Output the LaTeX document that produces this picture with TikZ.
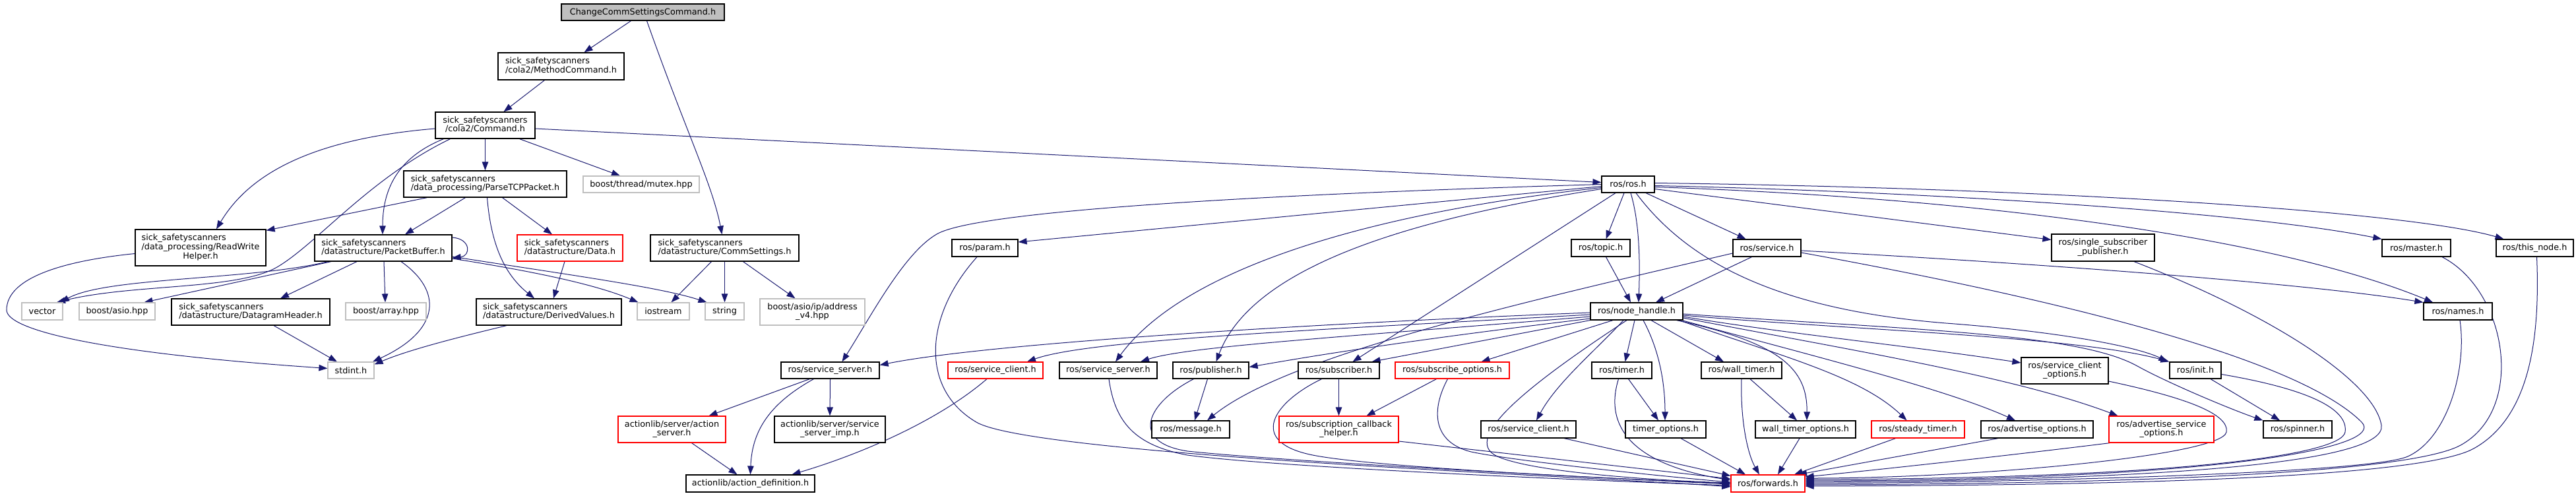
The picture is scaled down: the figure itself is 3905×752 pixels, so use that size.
\documentclass[tikz,border=0pt]{standalone}
\usepackage{fontspec}
\setmainfont{DejaVu Sans}
\usetikzlibrary{arrows.meta,calc}
\pgfdeclarelayer{edgelayer}
\pgfsetlayers{edgelayer,main}
\definecolor{edgeblue}{HTML}{191970}
\definecolor{nodegray}{HTML}{BFBFBF}
\newcommand{\twoline}[2]{\begin{tabular}{@{}l@{}}#1\\\multicolumn{1}{@{}c@{}}{#2}\end{tabular}}
\newcommand{\threeline}[3]{\begin{tabular}{@{}l@{}}#1\\#2\\\multicolumn{1}{@{}c@{}}{#3}\end{tabular}}
\begin{document}
\begin{tikzpicture}[x=1pt,y=-1pt,
  box/.style={draw=black, line width=1.2pt, fill=white, inner sep=0pt, font=\fontsize{12.8}{13.3}\selectfont, text=black},
  redbox/.style={box, draw=red},
  graybox/.style={box, draw=nodegray},
  edge/.style={draw=edgeblue, line width=1pt, -{Triangle[length=13pt,width=9.5pt]}}]
\useasboundingbox (0,0) rectangle (3905,752);
% ---------- nodes ----------
\node[box, fill=nodegray, minimum width=247pt, minimum height=25pt] (cc) at (974.5,18.5) {ChangeCommSettingsCommand.h};
\node[box, minimum width=191pt, minimum height=41pt] (mc) at (850.5,100.5) {\twoline{sick\_safetyscanners}{/cola2/MethodCommand.h}};
\node[box, minimum width=151pt, minimum height=40pt] (cmd) at (735.5,190) {\twoline{sick\_safetyscanners}{/cola2/Command.h}};
\node[box, minimum width=247pt, minimum height=40pt] (ptcp) at (735.5,279) {\twoline{sick\_safetyscanners}{/data\_processing/ParseTCPPacket.h}};
\node[graybox, minimum width=176pt, minimum height=25pt] (mutex) at (972,279.5) {boost/thread/mutex.hpp};
\node[box, minimum width=198pt, minimum height=55pt] (rw) at (304,375.5) {\threeline{sick\_safetyscanners}{/data\_processing/ReadWrite}{Helper.h}};
\node[box, minimum width=208pt, minimum height=40pt] (pb) at (581,376) {\twoline{sick\_safetyscanners}{/datastructure/PacketBuffer.h}};
\node[redbox, minimum width=160pt, minimum height=40pt] (data) at (864,376) {\twoline{sick\_safetyscanners}{/datastructure/Data.h}};
\node[box, minimum width=225pt, minimum height=40pt] (cs) at (1098.5,376) {\twoline{sick\_safetyscanners}{/datastructure/CommSettings.h}};
\node[graybox, minimum width=62pt, minimum height=26pt] (vec) at (64,472) {vector};
\node[graybox, minimum width=115pt, minimum height=26pt] (asio) at (177.5,472) {boost/asio.hpp};
\node[box, minimum width=240pt, minimum height=40pt] (dgh) at (380,473) {\twoline{sick\_safetyscanners}{/datastructure/DatagramHeader.h}};
\node[graybox, minimum width=122pt, minimum height=26pt] (arr) at (585,472) {boost/array.hpp};
\node[box, minimum width=220pt, minimum height=40pt] (dv) at (832,473) {\twoline{sick\_safetyscanners}{/datastructure/DerivedValues.h}};
\node[graybox, minimum width=79pt, minimum height=26pt] (ios) at (1005.5,472) {iostream};
\node[graybox, minimum width=59pt, minimum height=26pt] (str) at (1098.5,472) {string};
\node[graybox, minimum width=159pt, minimum height=40pt] (addr) at (1231.5,473) {\twoline{boost/asio/ip/address}{\_v4.hpp}};
\node[graybox, minimum width=70pt, minimum height=25pt] (std) at (532,561.5) {stdint.h};
\node[box, minimum width=80pt, minimum height=25pt] (rosh) at (2468,279.5) {ros/ros.h};
\node[box, minimum width=100pt, minimum height=26pt] (param) at (1493,376) {ros/param.h};
\node[box, minimum width=89pt, minimum height=26pt] (topic) at (2426.5,376) {ros/topic.h};
\node[box, minimum width=103pt, minimum height=26pt] (service) at (2678.5,376) {ros/service.h};
\node[box, minimum width=156pt, minimum height=41pt] (ssp) at (3188,375.5) {\twoline{ros/single\_subscriber}{\_publisher.h}};
\node[box, minimum width=104pt, minimum height=26pt] (master) at (3663,376) {ros/master.h};
\node[box, minimum width=117pt, minimum height=26pt] (thisnode) at (3842.5,376) {ros/this\_node.h};
\node[box, minimum width=140pt, minimum height=26pt] (nh) at (2481,472) {ros/node\_handle.h};
\node[box, minimum width=104pt, minimum height=26pt] (names) at (3726,472) {ros/names.h};
\node[box, minimum width=149pt, minimum height=25pt] (ssrv1) at (1258.5,561.5) {ros/service\_server.h};
\node[redbox, minimum width=144pt, minimum height=25pt] (sclient1) at (1509,561.5) {ros/service\_client.h};
\node[box, minimum width=148pt, minimum height=25pt] (ssrv2) at (1680,561.5) {ros/service\_server.h};
\node[box, minimum width=115pt, minimum height=25pt] (pub) at (1835.5,561.5) {ros/publisher.h};
\node[box, minimum width=123pt, minimum height=25pt] (sub) at (2029.5,561.5) {ros/subscriber.h};
\node[redbox, minimum width=173pt, minimum height=25pt] (subopt) at (2201.5,561.5) {ros/subscribe\_options.h};
\node[box, minimum width=91pt, minimum height=25pt] (timer) at (2458.5,561.5) {ros/timer.h};
\node[box, minimum width=122pt, minimum height=25pt] (wtimer) at (2640,561.5) {ros/wall\_timer.h};
\node[box, minimum width=132pt, minimum height=40pt] (sco) at (3130,562) {\twoline{ros/service\_client}{\_options.h}};
\node[box, minimum width=78pt, minimum height=25pt] (init) at (3328,561.5) {ros/init.h};
\node[redbox, minimum width=163pt, minimum height=40pt] (aserver) at (1018.5,651) {\twoline{actionlib/server/action}{\_server.h}};
\node[box, minimum width=168pt, minimum height=40pt] (ssimp) at (1258,651) {\twoline{actionlib/server/service}{\_server\_imp.h}};
\node[box, minimum width=118pt, minimum height=26pt] (msg) at (1805,651) {ros/message.h};
\node[redbox, minimum width=181pt, minimum height=40pt] (sch) at (2029.5,651) {\twoline{ros/subscription\_callback}{\_helper.h}};
\node[box, minimum width=144pt, minimum height=26pt] (sclient2) at (2317,651) {ros/service\_client.h};
\node[box, minimum width=122pt, minimum height=26pt] (topt) at (2525,651) {timer\_options.h};
\node[box, minimum width=152pt, minimum height=26pt] (wtopt) at (2737,651) {wall\_timer\_options.h};
\node[redbox, minimum width=141pt, minimum height=26pt] (stimer) at (2907.5,651) {ros/steady\_timer.h};
\node[box, minimum width=170pt, minimum height=26pt] (advopt) at (3088,651) {ros/advertise\_options.h};
\node[redbox, minimum width=159pt, minimum height=40pt] (asopt) at (3276.5,651) {\twoline{ros/advertise\_service}{\_options.h}};
\node[box, minimum width=104pt, minimum height=26pt] (spinner) at (3483,651) {ros/spinner.h};
\node[redbox, minimum width=112pt, minimum height=26pt] (fwd) at (2680,733) {ros/forwards.h};
\node[box, minimum width=195pt, minimum height=26pt] (adef) at (1137.5,733) {actionlib/action\_definition.h};
% ---------- edges ----------
\begin{pgfonlayer}{edgelayer}
\fill[white] (0,0) rectangle (3905,752);
% sick_safetyscanners part
\draw[edge] ($(cc.south)+(-18,0)$) -- ($(mc.north)+(35,0)$);
\draw[edge] ($(cc.south)+(6,0)$) .. controls (1040,200) and (1080,280) .. ($(cs.north)+(-4,0)$);
\draw[edge] ($(mc.south)+(-25,0)$) -- ($(cmd.north)+(28,0)$);
\draw[edge] (cmd.south) -- (ptcp.north);
\draw[edge] ($(cmd.south)+(52,0)$) -- ($(mutex.north)+(-32,0)$);
\draw[edge] ($(cmd.east)+(0,5)$) -- ($(rosh.west)+(0,-3)$);
\draw[edge] ($(cmd.west)+(0,5)$) .. controls (480,210) and (380,260) .. ($(rw.north)+(24,0)$);
\draw[edge] ($(cmd.south)+(-63,0)$) .. controls (600,240) and (580,290) .. ($(pb.north)+(-1,0)$);
\draw[edge] ($(cmd.south)+(-53,0)$) .. controls (560,270) and (480,370) .. (420,405) .. controls (360,440) and (200,430) .. ($(vec.north)+(22,0)$);
\draw[edge] ($(ptcp.south)+(-88,0)$) -- ($(rw.north east)+(0,2)$);
\draw[edge] ($(ptcp.south)+(-30,0)$) -- ($(pb.north)+(33,0)$);
\draw[edge] ($(ptcp.south)+(26,0)$) -- ($(data.north)+(-27,0)$);
\draw[edge] ($(ptcp.south)+(3,0)$) .. controls (745,380) and (770,420) .. ($(dv.north)+(-22,0)$);
\draw[edge] ($(pb.east)+(0,-16)$) .. controls (714,362) and (714,388) .. ($(pb.east)+(0,15)$);
\draw[edge] ($(pb.south)+(-84,0)$) .. controls (380,425) and (160,420) .. ($(vec.north)+(28,0)$);
\draw[edge] ($(pb.south)+(-79,0)$) -- ($(asio.north)+(41,0)$);
\draw[edge] ($(pb.south)+(-40,0)$) -- ($(dgh.north)+(45,0)$);
\draw[edge] ($(pb.south)+(1,0)$) -- ($(arr.north)+(-1,0)$);
\draw[edge] ($(pb.south)+(27,0)$) .. controls (670,440) and (670,500) .. ($(std.north)+(33,0)$);
\draw[edge] ($(pb.east)+(0,16)$) .. controls (800,410) and (900,430) .. ($(ios.north)+(-38,0)$);
\draw[edge] ($(pb.east)+(0,13)$) .. controls (850,415) and (1000,435) .. ($(str.north)+(-27,0)$);
\draw[edge] ($(data.south)+(-8,0)$) -- ($(dv.north)+(7,0)$);
\draw[edge] ($(cs.south)+(-20,0)$) -- ($(ios.north)+(12,0)$);
\draw[edge] (cs.south) -- (str.north);
\draw[edge] ($(cs.south)+(28,0)$) -- ($(addr.north)+(-26,0)$);
\draw[edge] ($(dv.south)+(-64,0)$) .. controls (700,510) and (620,530) .. ($(std.east)+(0,-9)$);
\draw[edge] ($(dgh.south)+(35,0)$) -- ($(std.north)+(-21,0)$);
\draw[edge] ($(rw.west)+(0,9)$) .. controls (100,395) and (10,420) .. (10,470) .. controls (10,500) and (150,535) .. ($(std.west)+(0,-3)$);
% actionlib part
\draw[edge] ($(ssrv1.south)+(-31,0)$) -- ($(aserver.north)+(56,0)$);
\draw[edge] (ssrv1.south) -- (ssimp.north);
\draw[edge] ($(ssrv1.south)+(-25,0)$) .. controls (1170,610) and (1140,650) .. (adef.north);
\draw[edge] ($(aserver.south)+(30,0)$) -- ($(adef.north)+(-20,0)$);
\draw[edge] ($(sclient1.south)+(-13,0)$) .. controls (1420,640) and (1300,690) .. ($(adef.north)+(63,0)$);
% ros/ros.h
\draw[edge] (rosh.west) .. controls (1900,295) and (1480,320) .. (1420,355) .. controls (1370,384) and (1320,480) .. ($(ssrv1.north)+(18,0)$);
\draw[edge] ($(rosh.west)+(0,3)$) -- ($(param.east)+(0,-9)$);
\draw[edge] ($(rosh.west)+(0,5)$) .. controls (2100,320) and (1800,400) .. ($(ssrv2.north)+(11,0)$);
\draw[edge] ($(rosh.west)+(0,7)$) .. controls (2150,330) and (1900,400) .. ($(pub.north)+(8,0)$);
\draw[edge] ($(rosh.south)+(-19,0)$) -- ($(sub.north)+(21,0)$);
\draw[edge] ($(rosh.south)+(-6,0)$) -- ($(topic.north)+(8,0)$);
\draw[edge] ($(rosh.south)+(4,0)$) .. controls (2486,340) and (2486,400) .. ($(nh.north)+(3,0)$);
\draw[edge] ($(rosh.south)+(27,0)$) -- ($(service.north)+(-32,0)$);
\draw[edge] ($(rosh.south)+(12,0)$) .. controls (2560,400) and (2700,470) .. (2950,490) .. controls (3150,505) and (3250,530) .. ($(init.north west)+(-3,0)$);
\draw[edge] ($(rosh.east)+(0,7)$) -- ($(ssp.west)+(0,-12)$);
\draw[edge] ($(rosh.east)+(0,2)$) .. controls (2900,290) and (3400,320) .. (master.north west);
\draw[edge] ($(rosh.east)+(0,-2)$) .. controls (3100,285) and (3650,320) .. ($(thisnode.north)+(-47,0)$);
\draw[edge] ($(rosh.east)+(0,4)$) .. controls (3000,300) and (3450,360) .. ($(names.north)+(-38,0)$);
% ros/service.h
\draw[edge] ($(service.east)+(0,4)$) .. controls (3100,400) and (3500,430) .. (names.north west);
\draw[edge] ($(service.west)+(0,8)$) .. controls (2300,460) and (1950,540) .. ($(msg.north)+(25,0)$);
\draw[edge] ($(service.south)+(-23,0)$) -- ($(nh.north)+(29,0)$);
\draw[edge] ($(service.east)+(0,7)$) .. controls (3100,450) and (3480,540) .. (3580,640) .. controls (3620,680) and (3350,728) .. ($(fwd.east)+(0,-4)$);
% long loops to ros/forwards.h
\draw[edge] ($(ssp.south)+(47,0)$) .. controls (3450,480) and (3600,580) .. (3610,645) .. controls (3618,700) and (3300,728) .. ($(fwd.east)+(0,-2)$);
\draw[edge] ($(init.east)+(0,6)$) .. controls (3500,590) and (3560,620) .. (3555,655) .. controls (3550,690) and (3300,725) .. ($(fwd.east)+(0,-6)$);
\draw[edge] ($(init.south)+(23,0)$) -- ($(spinner.north)+(-27,0)$);
\draw[edge] ($(sco.east)+(0,16)$) .. controls (3300,600) and (3380,625) .. (3375,655) .. controls (3370,690) and (3000,725) .. ($(fwd.east)+(0,-8)$);
\draw[edge] ($(names.south)+(3,0)$) .. controls (3740,560) and (3710,665) .. (3650,692) .. controls (3590,719) and (3000,732) .. (fwd.east);
\draw[edge] ($(master.south)+(39,0)$) .. controls (3800,440) and (3830,620) .. (3730,675) .. controls (3640,724) and (3100,734) .. ($(fwd.east)+(0,2)$);
\draw[edge] ($(thisnode.south)+(3,0)$) .. controls (3850,500) and (3840,630) .. (3750,680) .. controls (3660,730) and (3100,736) .. ($(fwd.east)+(0,4)$);
\draw[edge] ($(asopt.south west)+(2,0)$) .. controls (3050,690) and (2850,712) .. ($(fwd.east)+(0,-10)$);
\draw[edge] ($(advopt.south)+(-59,0)$) -- ($(fwd.north)+(46,0)$);
\draw[edge] ($(stimer.south)+(-34,0)$) -- ($(fwd.north)+(40,0)$);
\draw[edge] ($(wtopt.south)+(-9,0)$) -- ($(fwd.north)+(15,0)$);
\draw[edge] (wtimer.south) .. controls (2638,640) and (2650,690) .. ($(fwd.north)+(-13,0)$);
\draw[edge] ($(wtimer.south)+(13,0)$) -- ($(wtopt.north)+(-13,0)$);
\draw[edge] ($(timer.south)+(10,0)$) -- ($(topt.north)+(-11,0)$);
\draw[edge] ($(timer.south)+(-5,0)$) .. controls (2430,650) and (2480,705) .. ($(fwd.west)+(0,-5)$);
\draw[edge] ($(topt.south)+(23,0)$) -- ($(fwd.north)+(-34,0)$);
\draw[edge] ($(sclient2.south)+(54,0)$) -- ($(fwd.north west)+(0,2)$);
\draw[edge] ($(subopt.south)+(-7,0)$) .. controls (2170,620) and (2170,670) .. (2230,685) .. controls (2300,700) and (2550,725) .. ($(fwd.west)+(0,-2)$);
\draw[edge] ($(subopt.south)+(-24,0)$) -- ($(sch.north)+(42,0)$);
\draw[edge] (sub.south) -- (sch.north);
\draw[edge] ($(sub.south)+(-26,0)$) .. controls (1930,610) and (1890,670) .. (1990,690) .. controls (2090,710) and (2500,728) .. (fwd.west);
\draw[edge] ($(sch.east)+(0,18)$) -- ($(fwd.west)+(0,-7)$);
\draw[edge] ($(pub.south)+(-5,0)$) -- ($(msg.north)+(6,0)$);
\draw[edge] ($(pub.south)+(-26,0)$) .. controls (1740,610) and (1710,670) .. (1800,684) .. controls (1950,700) and (2450,726) .. ($(fwd.west)+(0,1)$);
\draw[edge] ($(ssrv2.south)+(1,0)$) .. controls (1690,640) and (1720,675) .. (1800,690) .. controls (1950,710) and (2450,730) .. ($(fwd.west)+(0,3)$);
\draw[edge] ($(param.south)+(-12,0)$) .. controls (1400,480) and (1395,590) .. (1480,640) .. controls (1565,690) and (2400,722) .. ($(fwd.west)+(0,5)$);
\draw[edge] ($(topic.south)+(8,0)$) -- ($(nh.north)+(-9,0)$);
% ros/node_handle.h
\draw[edge] ($(nh.west)+(0,2)$) .. controls (2000,490) and (1500,520) .. ($(ssrv1.east)+(0,-8)$);
\draw[edge] ($(nh.west)+(0,5)$) .. controls (2000,500) and (1650,515) .. ($(sclient1.north)+(48,0)$);
\draw[edge] ($(nh.west)+(0,8)$) .. controls (2050,510) and (1800,525) .. ($(ssrv2.north)+(49,0)$);
\draw[edge] ($(nh.west)+(0,11)$) .. controls (2100,520) and (1960,545) .. ($(pub.east)+(0,-5)$);
\draw[edge] (nh.south west) -- ($(sub.north)+(50,0)$);
\draw[edge] ($(nh.south)+(-36,0)$) -- ($(subopt.north)+(44,0)$);
\draw[edge] ($(nh.south)+(-20,0)$) .. controls (2420,530) and (2360,580) .. ($(sclient2.north)+(12,0)$);
\draw[edge] ($(nh.south)+(-3,0)$) -- ($(timer.north)+(5,0)$);
\draw[edge] ($(nh.south)+(10,0)$) .. controls (2515,530) and (2524,580) .. ($(topt.north)+(-1,0)$);
\draw[edge] ($(nh.south)+(22,0)$) -- ($(wtimer.north)+(-27,0)$);
\draw[edge] ($(nh.south)+(-15,0)$) .. controls (2330,575) and (2210,665) .. (2270,692) .. controls (2330,719) and (2550,730) .. ($(fwd.west)+(0,-1)$);
\draw[edge] ($(nh.south east)+(-10,0)$) .. controls (2700,520) and (2740,560) .. ($(wtopt.north)+(2,0)$);
\draw[edge] ($(nh.south east)+(-6,0)$) .. controls (2700,540) and (2820,570) .. ($(stimer.north)+(-17,0)$);
\draw[edge] ($(nh.south east)+(-2,0)$) .. controls (2750,540) and (2950,590) .. ($(advopt.north)+(-33,0)$);
\draw[edge] ($(nh.east)+(0,10)$) .. controls (2800,530) and (3050,570) .. ($(asopt.north)+(-66,0)$);
\draw[edge] ($(nh.east)+(0,8)$) .. controls (2700,505) and (2900,525) .. ($(sco.west)+(0,-12)$);
\draw[edge] ($(nh.east)+(0,6)$) .. controls (2800,500) and (3150,510) .. (init.north west);
\draw[edge] ($(nh.east)+(0,4)$) .. controls (2900,500) and (3150,505) .. (3240,555) .. controls (3285,580) and (3380,620) .. (spinner.north west);
\end{pgfonlayer}
\end{tikzpicture}
\end{document}
